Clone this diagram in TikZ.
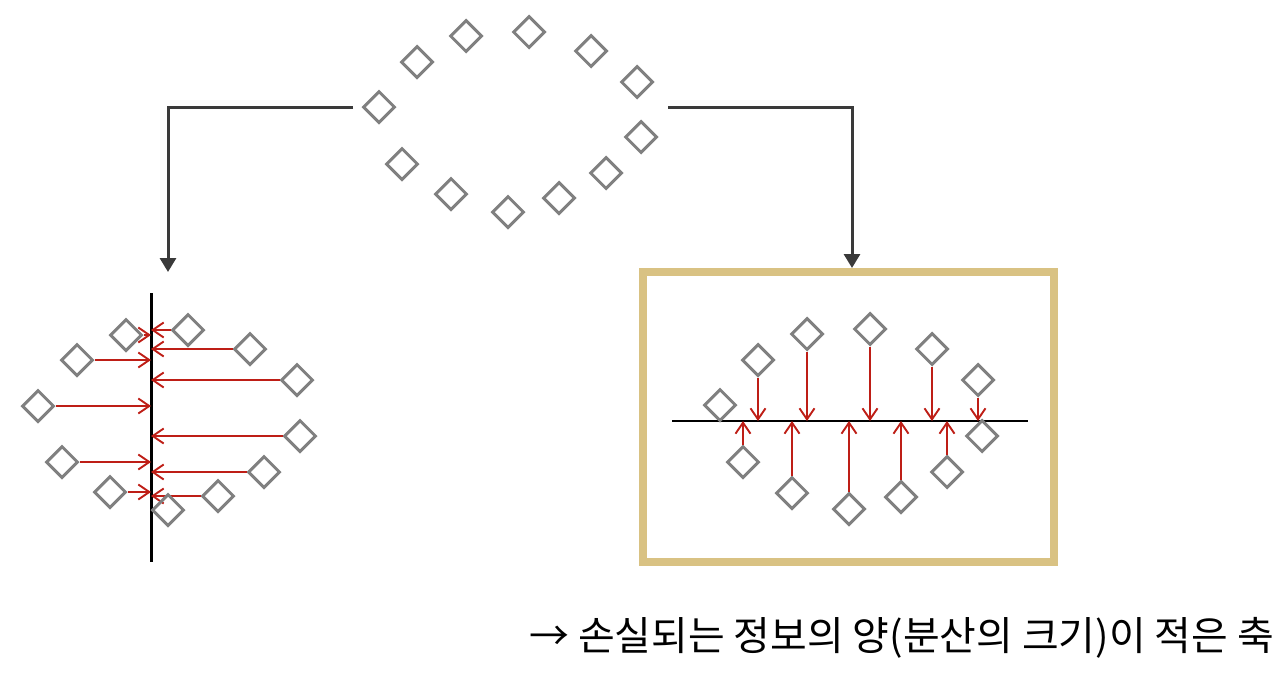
\documentclass[tikz,border=0pt]{standalone}
\usepackage{fontspec}
\newfontfamily\kofont{Noto Sans CJK KR}
\usetikzlibrary{positioning, shapes.geometric, arrows.meta, calc}
\definecolor{ptgray}{RGB}{128,128,128}
\definecolor{projred}{RGB}{190,30,22}
\definecolor{conngray}{RGB}{58,58,58}
\definecolor{framegold}{RGB}{217,194,131}

\begin{document}
\begin{tikzpicture}[x=0.2mm, y=-0.2mm,
		pt/.style={diamond, draw=ptgray, line width=0.6mm, minimum width=6.4mm, minimum height=6.4mm, inner sep=0pt},
		proj/.style={draw=projred, line width=0.38mm, -{Straight Barb[length=2.2mm,width=3mm]}},
		conn/.style={draw=conngray, line width=0.6mm, -{Triangle[length=2.8mm,width=3.2mm]}}]
		\useasboundingbox (0,0) rectangle (1280,676);
		
		\foreach \n/\x/\y in {1/379/107, 2/417/62, 3/466/36, 4/529/32, 5/591/51, 6/637/82,
			7/641/137, 8/606/173, 9/559/198, 10/508/212, 11/451/194, 12/402/164}
			\node[pt] (t\n) at (\x,\y) {};
		
		\coordinate (Lstart) at (353,107);
		\coordinate (Ltip) at (168,272);
		\coordinate (Rstart) at (668,107);
		\draw[conn] (Lstart) -| (Ltip);
		
		\node[draw=framegold, line width=1.6mm, minimum width=82.2mm, minimum height=58mm, inner sep=0pt] (frame) at (848.5,417) {};
		\draw[conn] (Rstart) -| ([xshift=0.7mm]frame.north);
		
		\coordinate (ax1) at (151,293);
		\coordinate (ax2) at (151,562);
		\draw[line width=0.6mm] (ax1) -- (ax2);
		\foreach \n/\x/\y in {1/126/335, 2/77/360, 3/38/406, 4/62/462, 5/110/492}
		{
			\node[pt] (a\n) at (\x,\y) {};
			\draw[proj] (a\n.east) -- (a\n.east -| ax1);
		}
		\foreach \n/\x/\y in {6/188/330, 7/250/349, 8/297/380, 9/300/436, 10/264/472, 11/218/496}
		{
			\node[pt] (a\n) at (\x,\y) {};
			\draw[proj] (a\n.west) -- (a\n.west -| ax1);
		}
		\node[pt] (a12) at (168,510) {};
		
		\coordinate (bx1) at (672,421);
		\coordinate (bx2) at (1028,421);
		\draw[line width=0.55mm] (bx1) -- (bx2);
		\foreach \n/\x/\y in {1/758/360, 2/807/334, 3/870/329, 4/932/349, 5/978/380}
		{
			\node[pt] (b\n) at (\x,\y) {};
			\draw[proj] (b\n.south) -- (b\n.south |- bx1);
		}
		\foreach \n/\x/\y in {6/743/462, 7/792/493, 8/849/509, 9/901/497, 10/947/472}
		{
			\node[pt] (b\n) at (\x,\y) {};
			\draw[proj] (b\n.north) -- (b\n.north |- bx1);
		}
		\node[pt] (b11) at (720,405) {};
		\node[pt] (b12) at (982,436) {};
		
		\node[anchor=west, inner sep=0pt, font=\kofont\fontsize{22.7}{27}\selectfont] (caption) at (529,638) {→ 손실되는 정보의 양(분산의 크기)이 적은 축};
\end{tikzpicture}
\end{document}
